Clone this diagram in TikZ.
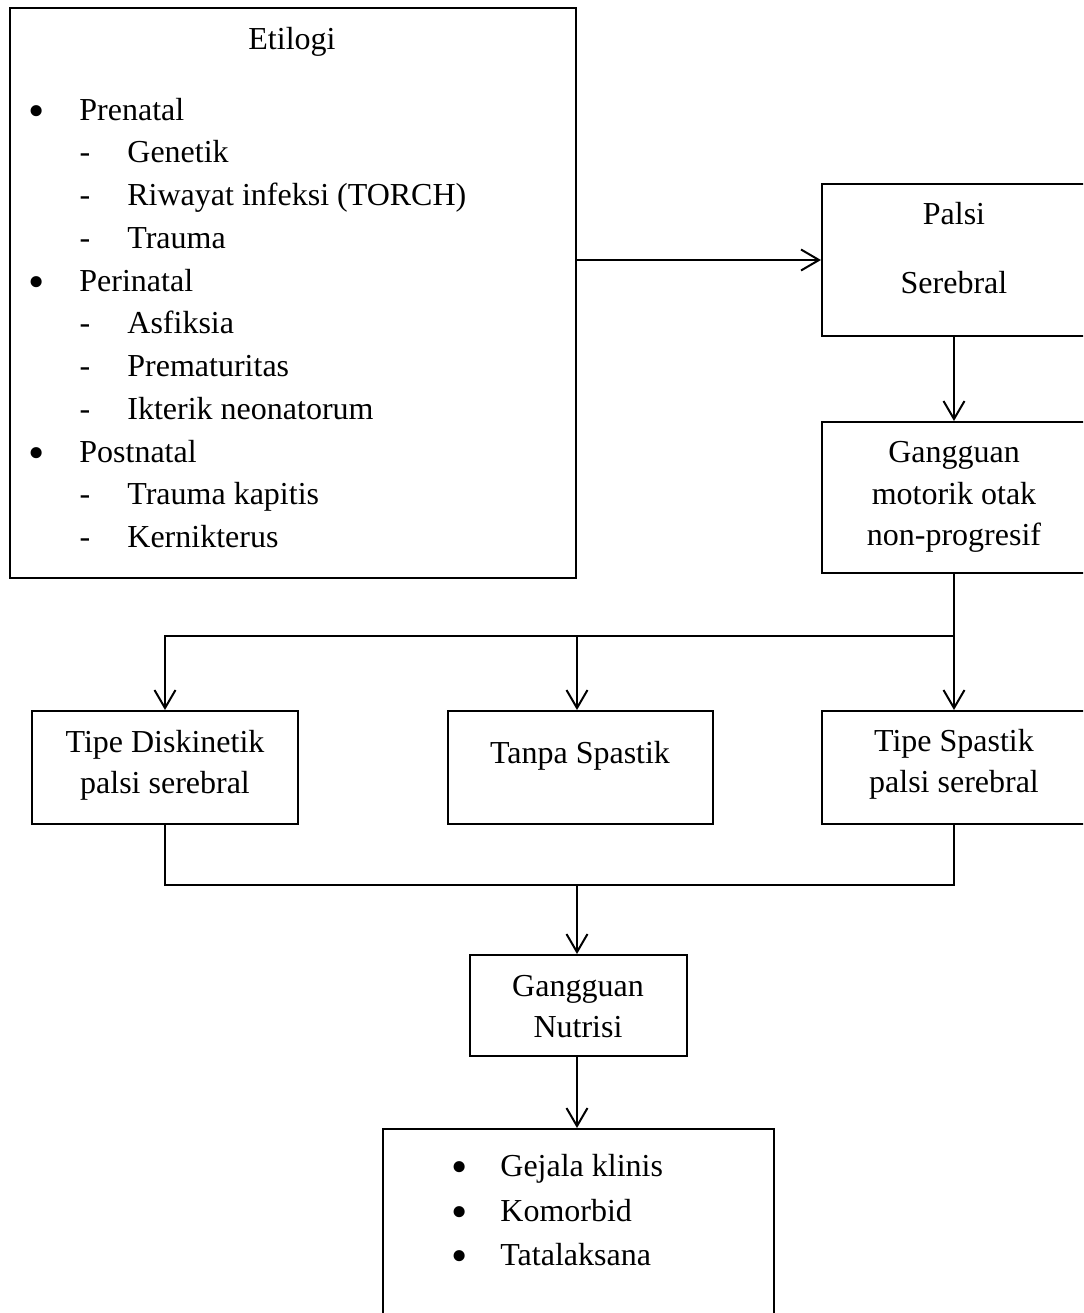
\documentclass[tikz,border=0pt]{standalone}
\usepackage{fontspec}
\usepackage{graphicx}
\setmainfont{Liberation Serif}
\usetikzlibrary{arrows.meta}
\newcommand\mybul{\scalebox{1.45}{•}}
\begin{document}
\begin{tikzpicture}[x=0.5pt,y=-0.5pt,
  box/.style={draw, line width=1pt, rectangle, inner sep=0pt},
  txt/.style={inner sep=0pt, anchor=base, font=\fontsize{16}{20}\selectfont},
  ltxt/.style={txt, anchor=base west},
  bul/.style={txt, yshift=-3.25pt},
  conn/.style={line width=1pt},
  arr/.style={conn, -{Straight Barb[length=9pt,width=10.5pt]}}]
\useasboundingbox (0,0) rectangle (1083,1313);
\fill[white] (0,0) rectangle (1083,1313);
\clip (0,0) rectangle (1083,1313);
% boxes
\node[box, minimum width=283pt, minimum height=285pt] (etl) at (293,293) {};
\node[box, minimum width=132pt, minimum height=76pt] (pal) at (954,260) {};
\node[box, minimum width=132pt, minimum height=75.5pt] (gm) at (954,497.5) {};
\node[box, minimum width=133pt, minimum height=56.5pt] (dis) at (165,767.5) {};
\node[box, minimum width=132.5pt, minimum height=56.5pt] (tan) at (580.5,767.5) {};
\node[box, minimum width=132pt, minimum height=56.5pt] (sp) at (954,767.5) {};
\node[box, minimum width=108.5pt, minimum height=50.5pt] (nut) at (578.5,1005.5) {};
\node[box, minimum width=195.5pt, minimum height=105pt] (bot) at (578.5,1234) {};
% Etilogi text
\node[txt] (t0) at (292,49) {Etilogi};
\node[bul] (b1) at (37,120) {\mybul};
\node[ltxt] (m1) at (79,120) {Prenatal};
\node[txt] (d1) at (85,162.7) {-};
\node[ltxt] (s1) at (127,162.7) {Genetik};
\node[txt] (d2) at (85,205.4) {-};
\node[ltxt] (s2) at (127,205.4) {Riwayat infeksi (TORCH)};
\node[txt] (d3) at (85,248) {-};
\node[ltxt] (s3) at (127,248) {Trauma};
\node[bul] (b2) at (37,291) {\mybul};
\node[ltxt] (m2) at (79,291) {Perinatal};
\node[txt] (d4) at (85,333.5) {-};
\node[ltxt] (s4) at (127,333.5) {Asfiksia};
\node[txt] (d5) at (85,376) {-};
\node[ltxt] (s5) at (127,376) {Prematuritas};
\node[txt] (d6) at (85,419) {-};
\node[ltxt] (s6) at (127,419) {Ikterik neonatorum};
\node[bul] (b3) at (37,462) {\mybul};
\node[ltxt] (m3) at (79,462) {Postnatal};
\node[txt] (d7) at (85,504) {-};
\node[ltxt] (s7) at (127,504) {Trauma kapitis};
\node[txt] (d8) at (85,547) {-};
\node[ltxt] (s8) at (127,547) {Kernikterus};
% other texts
\node[txt] (p1) at (954,224) {Palsi};
\node[txt] (p2) at (954,293) {Serebral};
\node[txt] (g1) at (954,462) {Gangguan};
\node[txt] (g2) at (954,504) {motorik otak};
\node[txt] (g3) at (954,545) {non-progresif};
\node[txt] (k1) at (165,752) {Tipe Diskinetik};
\node[txt] (k2) at (165,793) {palsi serebral};
\node[txt] (n1) at (580,763) {Tanpa Spastik};
\node[txt] (q1) at (954,751) {Tipe Spastik};
\node[txt] (q2) at (954,792) {palsi serebral};
\node[txt] (u1) at (578,996) {Gangguan};
\node[txt] (u2) at (578,1037) {Nutrisi};
\node[bul] (c1) at (460,1176) {\mybul};
\node[ltxt] (e1) at (500,1176) {Gejala klinis};
\node[bul] (c2) at (460,1221) {\mybul};
\node[ltxt] (e2) at (500,1221) {Komorbid};
\node[bul] (c3) at (460,1265) {\mybul};
\node[ltxt] (e3) at (500,1265) {Tatalaksana};
% connectors
\coordinate (j1) at (954,636);
\coordinate (j2) at (577,636);
\coordinate (j3) at (577,885);
\draw[arr] (etl.east |- pal.west) -- (pal.west);
\draw[arr] (pal.south) -- (gm.north);
\draw[conn] (gm.south) -- (j1);
\draw[arr] (j1) -| (dis.north);
\draw[arr] (j1) -- (sp.north);
\draw[arr] (j2) -- (j2 |- tan.north);
\draw[conn] (dis.south) |- (j3);
\draw[conn] (sp.south) |- (j3);
\draw[arr] (j3) -- (j3 |- nut.north);
\draw[arr] (j3 |- nut.south) -- (j3 |- bot.north);
\end{tikzpicture}
\end{document}
